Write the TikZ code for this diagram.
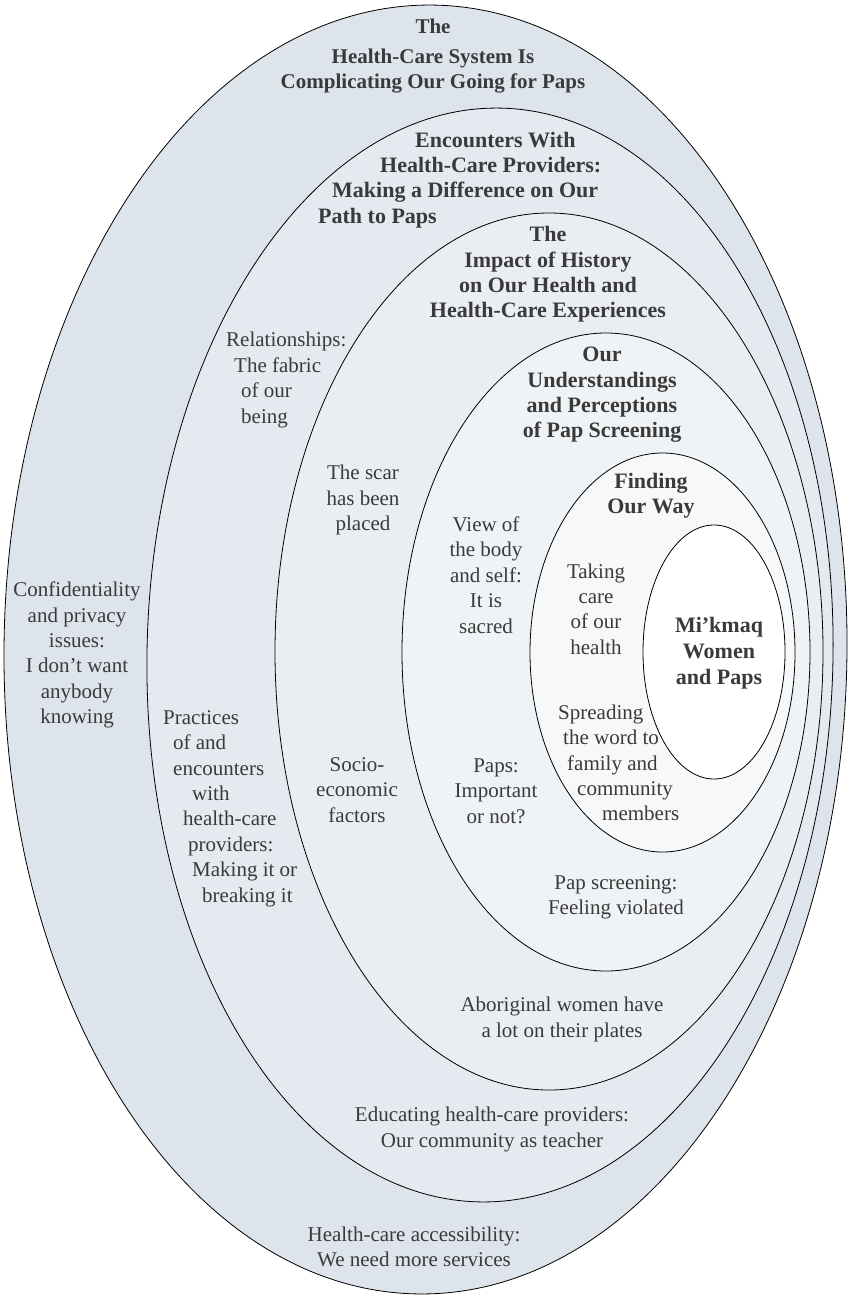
\documentclass[tikz,border=0pt]{standalone}
\usepackage{fontspec}
\setmainfont{Liberation Serif}
\definecolor{ringA}{HTML}{DDE4EB}
\definecolor{ringB}{HTML}{E4EAF0}
\definecolor{ringC}{HTML}{EAEEF3}
\definecolor{ringD}{HTML}{F0F3F6}
\definecolor{ringE}{HTML}{F6F8FA}
\definecolor{txt}{HTML}{3A3A3A}
\tikzset{
  ring/.style={draw=black, line width=0.8pt},
  lbl/.style={font=\fontsize{21}{25.4}\selectfont, text=txt, align=center, inner sep=0pt},
  lbll/.style={font=\fontsize{21}{25.4}\selectfont, text=txt, align=left, inner sep=0pt, anchor=west},
  hd/.style={font=\bfseries\fontsize{22}{25.3}\selectfont, text=txt, align=center, inner sep=0pt},
  hdl/.style={font=\bfseries\fontsize{22}{25.3}\selectfont, text=txt, align=left, inner sep=0pt, anchor=west},
}
\begin{document}
\begin{tikzpicture}[x=1pt,y=-1pt]
\useasboundingbox (0,0) rectangle (848,1297);
% rings
\path[ring, fill=ringA, rotate around={-0.6:(425.5,649.5)}] (425.5,649.5) ellipse [x radius=421.5pt, y radius=644.5pt];
\path[ring, fill=ringB, rotate around={-1.1:(490,655)}] (490,655) ellipse [x radius=343pt, y radius=547pt];
\path[ring, fill=ringC] (549,651.5) ellipse [x radius=274pt, y radius=438.5pt];
\path[ring, fill=ringD] (606,652) ellipse [x radius=204pt, y radius=319pt];
\path[ring, fill=ringE] (662.5,652.5) ellipse [x radius=132.5pt, y radius=199.5pt];
\path[ring, fill=white] (714,652) ellipse [x radius=71pt, y radius=127pt];
% headings
\node[hd, font=\bfseries\fontsize{21}{25.3}\selectfont] (h1) at (433,56) {The\\[5pt]Health-Care System Is\\Complicating Our Going for Paps};
\node[hdl] (h2) at (318,180) {\hspace*{97pt}Encounters With\\\hspace*{62pt}Health-Care Providers:\\\hspace*{14pt}Making a Difference on Our\\Path to Paps};
\node[hd] (h3) at (548,274.5) {The\\Impact of History\\on Our Health and\\Health-Care Experiences};
\node[hd] (h4) at (602,395) {Our\\Understandings\\and Perceptions\\of Pap Screening};
\node[hd] (h5) at (651,495.5) {Finding\\Our Way};
\node[hd, font=\bfseries\fontsize{22}{26}\selectfont] (h6) at (719,653) {Mi’kmaq\\Women\\and Paps};
% labels
\node[lbl] (conf) at (77,655) {Confidentiality\\and privacy\\issues:\\I don’t want\\anybody\\knowing};
\node[lbll] (prac) at (163,808.5) {Practices\\\hspace*{10pt}of and\\\hspace*{10pt}encounters\\\hspace*{29pt}with\\\hspace*{20pt}health-care\\\hspace*{25pt}providers:\\\hspace*{29pt}Making it or\\\hspace*{39pt}breaking it};
\node[lbll] (rel) at (226,380) {Relationships:\\\hspace*{8pt}The fabric\\\hspace*{15pt}of our\\\hspace*{15pt}being};
\node[lbl] (scar) at (363,500) {The scar\\has been\\placed};
\node[lbl] (view) at (486,575) {View of\\the body\\and self:\\It is\\sacred};
\node[lbl] (socio) at (357,790) {Socio-\\economic\\factors};
\node[lbl] (paps) at (496,791) {Paps:\\Important\\or not?};
\node[lbl] (take) at (596,609) {Taking\\care\\of our\\health};
\node[lbll] (spread) at (558,763) {Spreading\\\hspace*{5pt}the word to\\\hspace*{9pt}family and\\\hspace*{19pt}community\\\hspace*{44pt}members};
\node[lbl] (viol) at (616,897.5) {Pap screening:\\Feeling violated};
\node[lbl] (abor) at (562,1019.5) {Aboriginal women have\\a lot on their plates};
\node[lbl] (educ) at (492,1129.5) {Educating health-care providers:\\Our community as teacher};
\node[lbl] (acc) at (414,1247) {Health-care accessibility:\\We need more services};
\end{tikzpicture}
\end{document}
